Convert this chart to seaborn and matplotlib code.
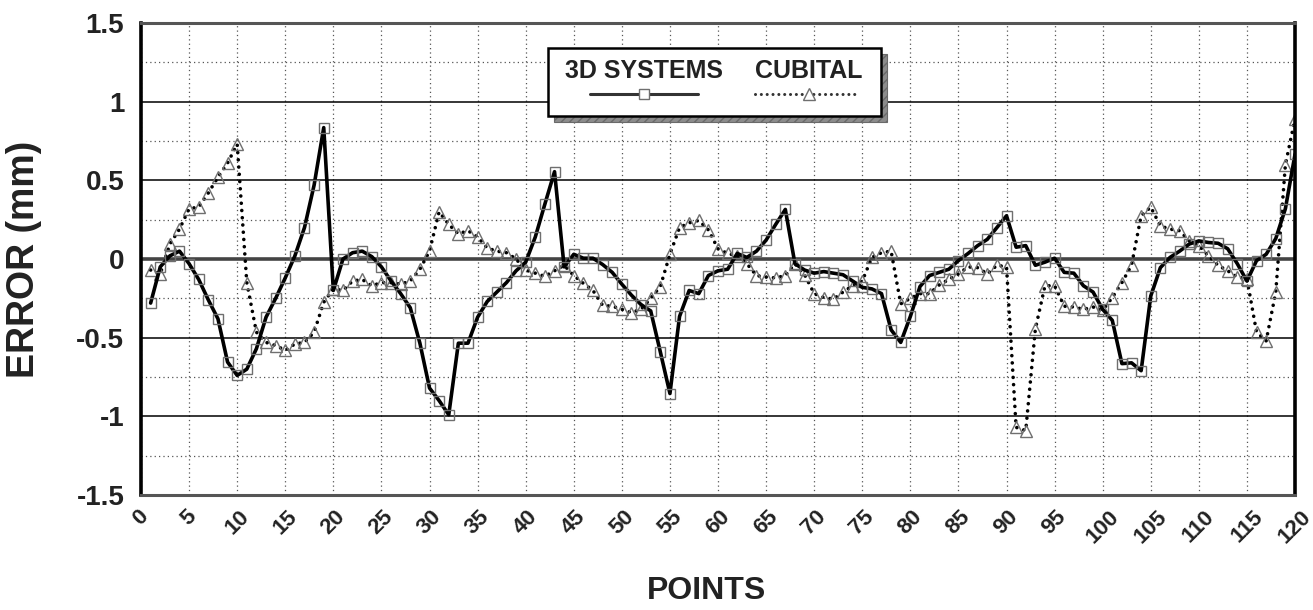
import numpy as np
import pandas as pd
import matplotlib
matplotlib.use("Agg")
import matplotlib.pyplot as plt
from matplotlib.lines import Line2D
from matplotlib.patches import Rectangle
from matplotlib.ticker import MultipleLocator
import seaborn as sns

# ---------------- data ----------------
points = np.arange(1, 121)

systems_3d = [
    -0.28, -0.05, 0.02, 0.05, -0.03, -0.13, -0.26, -0.38, -0.655, -0.74,
    -0.70, -0.57, -0.37, -0.25, -0.12, 0.02, 0.20, 0.47, 0.835, -0.20,
    0.00, 0.04, 0.05, 0.015, -0.05, -0.14, -0.22, -0.31, -0.535, -0.82,
    -0.90, -0.99, -0.535, -0.535, -0.37, -0.27, -0.21, -0.15, -0.075, -0.02,
    0.14, 0.35, 0.555, -0.05, 0.03, 0.005, 0.005, -0.035, -0.085, -0.16,
    -0.23, -0.29, -0.33, -0.59, -0.855, -0.365, -0.20, -0.22, -0.105, -0.075,
    -0.065, 0.035, 0.01, 0.05, 0.12, 0.22, 0.315, -0.03, -0.07, -0.09,
    -0.08, -0.09, -0.10, -0.14, -0.18, -0.19, -0.22, -0.45, -0.53, -0.365,
    -0.175, -0.105, -0.085, -0.065, -0.01, 0.035, 0.085, 0.125, 0.20, 0.275,
    0.075, 0.085, -0.04, -0.02, 0.005, -0.085, -0.09, -0.17, -0.21, -0.32,
    -0.39, -0.665, -0.66, -0.71, -0.235, -0.055, 0.01, 0.05, 0.095, 0.115,
    0.105, 0.10, 0.065, -0.03, -0.14, -0.01, 0.03, 0.13, 0.32, 0.665,
]

cubital = [
    -0.07, -0.095, 0.095, 0.19, 0.32, 0.33, 0.42, 0.52, 0.61, 0.73,
    -0.15, -0.465, -0.53, -0.55, -0.58, -0.54, -0.53, -0.465, -0.275, -0.19,
    -0.20, -0.14, -0.13, -0.17, -0.15, -0.15, -0.16, -0.14, -0.065, 0.05,
    0.30, 0.22, 0.16, 0.18, 0.14, 0.07, 0.05, 0.04, 0.00, -0.07,
    -0.09, -0.11, -0.075, -0.04, -0.105, -0.155, -0.20, -0.295, -0.30, -0.32,
    -0.34, -0.32, -0.25, -0.175, 0.03, 0.20, 0.23, 0.245, 0.185, 0.065,
    0.035, 0.02, -0.03, -0.105, -0.115, -0.12, -0.105, -0.03, -0.10, -0.22,
    -0.245, -0.255, -0.21, -0.17, -0.14, 0.01, 0.04, 0.05, -0.285, -0.25,
    -0.22, -0.22, -0.165, -0.13, -0.095, -0.05, -0.055, -0.095, -0.04, -0.05,
    -1.07, -1.09, -0.445, -0.17, -0.17, -0.30, -0.305, -0.32, -0.305, -0.325,
    -0.245, -0.15, -0.04, 0.275, 0.33, 0.21, 0.19, 0.18, 0.115, 0.085,
    0.02, -0.04, -0.075, -0.115, -0.125, -0.465, -0.52, -0.21, 0.60, 0.89,
]

series_names = ["3D SYSTEMS", "CUBITAL"]
x_ticks = list(range(0, 121, 5))
y_ticks = [-1.5, -1, -0.5, 0, 0.5, 1, 1.5]
y_tick_labels = ["-1.5", "-1", "-0.5", "0", "0.5", "1", "1.5"]

df = pd.DataFrame({"point": points, "sys3d": systems_3d, "cubital": cubital})

# ---------------- style ----------------
sns.set_style("white")
plt.rcParams["font.family"] = ["Liberation Sans", "DejaVu Sans"]
plt.rcParams["font.weight"] = "bold"

fig = plt.figure(figsize=(13.13, 6.10), dpi=100)
ax = fig.add_axes([0.1074, 0.1885, 0.8789, 0.7738])

ax.set_xlim(0, 120)
ax.set_ylim(-1.5, 1.5)

# grid
ax.xaxis.set_major_locator(MultipleLocator(5))
ax.yaxis.set_major_locator(MultipleLocator(0.5))
ax.yaxis.set_minor_locator(MultipleLocator(0.25))
ax.grid(axis="x", which="major", color="#555555", linestyle=(0, (1, 2.5)), linewidth=0.9)
ax.grid(axis="y", which="major", color="black", linestyle="-", linewidth=1.1)
ax.grid(axis="y", which="minor", color="#555555", linestyle=(0, (1, 2.5)), linewidth=0.9)
ax.set_axisbelow(True)
ax.axhline(0, color="#444444", linewidth=2.6, zorder=1.5)

# series
sns.lineplot(data=df, x="point", y="sys3d", ax=ax, color="black", linewidth=2.6,
             marker="s", markersize=7.5, markerfacecolor="none",
             markeredgecolor="#6f6f6f", markeredgewidth=1.0, zorder=3)
sns.lineplot(data=df, x="point", y="cubital", ax=ax, color="black", linewidth=2.6,
             linestyle=(0, (0.01, 2.0)), dash_capstyle="round",
             marker="^", markersize=9, markerfacecolor="none",
             markeredgecolor="#6f6f6f", markeredgewidth=1.0, zorder=2.5)

# ticks & labels
ax.set_xticks(x_ticks)
ax.set_xticklabels([str(t) for t in x_ticks], rotation=45, ha="center",
                   fontsize=16, fontweight="bold")
ax.set_yticks(y_ticks)
ax.set_yticklabels(y_tick_labels, fontsize=20, fontweight="bold")
ax.tick_params(axis="both", which="both", length=0)
ax.tick_params(axis="x", pad=8, colors="#222222")
ax.tick_params(axis="y", pad=12, colors="#222222")
ax.set_xlabel("POINTS", fontsize=23, fontweight="bold", color="#222222")
ax.xaxis.set_label_coords(0.49, -0.172)
ax.set_ylabel("ERROR (mm)", fontsize=27, fontweight="bold", color="#222222")
ax.yaxis.set_label_coords(-0.086, 0.5)

for side in ["left", "right"]:
    ax.spines[side].set_color("black")
    ax.spines[side].set_linewidth(2.6)
for side in ["top", "bottom"]:
    ax.spines[side].set_color("#555555")
    ax.spines[side].set_linewidth(2.2)
for s in ax.spines.values():
    s.set_zorder(5)

# ---------------- legend box (text above handles, with shadow) ----------------
bx, by, bw, bh = 0.3524, 0.803, 0.2888, 0.1447
ax.add_patch(Rectangle((bx + 0.0055, by - 0.0127), bw, bh, transform=ax.transAxes,
                       facecolor="#8c8c8c", edgecolor="#6a6a6a", hatch="////",
                       linewidth=0.8, zorder=6))
ax.add_patch(Rectangle((bx, by), bw, bh, transform=ax.transAxes,
                       facecolor="white", edgecolor="black", linewidth=1.8, zorder=7))
ax.text(0.436, 0.898, series_names[0], transform=ax.transAxes, ha="center", va="center",
        fontsize=18, fontweight="bold", color="#222222", zorder=8)
ax.text(0.579, 0.898, series_names[1], transform=ax.transAxes, ha="center", va="center",
        fontsize=18, fontweight="bold", color="#222222", zorder=8)
ax.add_line(Line2D([0.389, 0.483], [0.850, 0.850], transform=ax.transAxes, color="#333333",
                   linewidth=2.2, zorder=8))
ax.add_line(Line2D([0.436], [0.850], transform=ax.transAxes, marker="s", markersize=7.5,
                   markerfacecolor="white", markeredgecolor="#6f6f6f", linestyle="none", zorder=9))
ax.add_line(Line2D([0.532, 0.623], [0.850, 0.850], transform=ax.transAxes, color="#333333",
                   linewidth=2.2, linestyle=(0, (0.01, 1.9)), dash_capstyle="round", zorder=8))
ax.add_line(Line2D([0.579], [0.850], transform=ax.transAxes, marker="^", markersize=9,
                   markerfacecolor="white", markeredgecolor="#6f6f6f", linestyle="none", zorder=9))

fig.savefig("out.png", dpi=100)
